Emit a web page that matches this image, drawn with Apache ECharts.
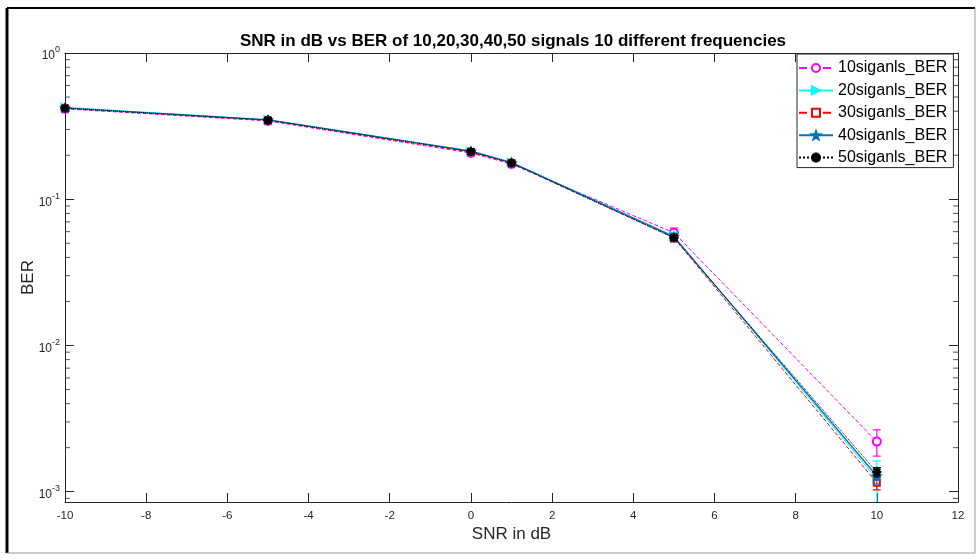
<!DOCTYPE html>
<html>
<head>
<meta charset="utf-8">
<script src="https://cdn.jsdelivr.net/npm/echarts@6/dist/echarts.min.js"></script>
<style>html,body{margin:0;padding:0;background:#fff;}#c{width:980px;height:560px;}</style>
</head>
<body>
<div id="c"></div>
<script>
// ---- data ----
const snr = [-10, -5, 0, 1, 5, 10];
const ber10 = [0.415, 0.343, 0.207, 0.174, 0.059, 0.0022];
const ber20 = [0.425, 0.350, 0.214, 0.179, 0.056, 0.00122];
const ber30 = [0.418, 0.346, 0.210, 0.176, 0.0545, 0.00115];
const ber40 = [0.422, 0.349, 0.213, 0.178, 0.0555, 0.00128];
const ber50 = [0.420, 0.348, 0.212, 0.177, 0.0545, 0.00136];
const err10 = [0.006, 0.005, 0.004, 0.003, 0.0045, 0.00045];
const err20 = [0.005, 0.004, 0.003, 0.003, 0.003, 0.0004];
const err30 = [0.004, 0.004, 0.003, 0.003, 0.0035, 0.00012];
const err40 = [0.004, 0.004, 0.003, 0.003, 0.003, 0.00015];
const err50 = [0.004, 0.004, 0.003, 0.003, 0.002, 0.0001];
const seriesNames = ['10siganls_BER', '20siganls_BER', '30siganls_BER', '40siganls_BER', '50siganls_BER'];
const xTicks = [-10, -8, -6, -4, -2, 0, 2, 4, 6, 8, 10, 12];
const yMinorTicks = [0.0009,
  0.002, 0.003, 0.004, 0.005, 0.006, 0.007, 0.008, 0.009,
  0.02, 0.03, 0.04, 0.05, 0.06, 0.07, 0.08, 0.09,
  0.2, 0.3, 0.4, 0.5, 0.6, 0.7, 0.8, 0.9];

const X_MIN = -10, X_MAX = 12, Y_MIN = 0.00085, Y_MAX = 1;
const colors = ['#ff00ff', '#00ffff', '#ff0000', '#0072bd', '#000000'];
const lineTypes = ['dashed', 'solid', 'dashed', 'solid', 'dotted'];
const starPath = 'path://M0,-10 L2.35,-3.24 L9.51,-3.09 L3.8,1.24 L5.88,8.09 L0,4 L-5.88,8.09 L-3.8,1.24 L-9.51,-3.09 L-2.35,-3.24 Z';
const asteriskPath = 'path://M-0.9,-6 L0.9,-6 L0.9,6 L-0.9,6 Z M-6,-0.9 L6,-0.9 L6,0.9 L-6,0.9 Z M-4.9,-3.6 L-3.6,-4.9 L4.9,3.6 L3.6,4.9 Z M3.6,-4.9 L4.9,-3.6 L-3.6,4.9 L-4.9,3.6 Z';
const symbols = ['emptyCircle', 'triangle', 'emptyRect', starPath, asteriskPath];
const symbolSizes = [8, 8, 6, 9, 8];
const symbolRot = [0, -90, 0, 0, 0];

const bers = [ber10, ber20, ber30, ber40, ber50];
const errs = [err10, err20, err30, err40, err50];
const font = "'Liberation Sans', Arial, Helvetica, sans-serif";
const axisColor = '#262626';

const series = [];
// minor ticks of the log axis (2..9 x 10^k), positioned by the axis scale
series.push({
  type: 'scatter', silent: true, z: 20, xAxisIndex: 0, yAxisIndex: 0,
  data: yMinorTicks.map(v => [X_MIN, v]),
  symbol: 'rect', symbolSize: [5, 1], symbolOffset: [2.5, 0],
  itemStyle: { color: axisColor }
});
series.push({
  type: 'scatter', silent: true, z: 20, xAxisIndex: 0, yAxisIndex: 0,
  data: yMinorTicks.map(v => [X_MAX, v]),
  symbol: 'rect', symbolSize: [5, 1], symbolOffset: [-2.5, 0],
  itemStyle: { color: axisColor }
});
bers.forEach((b, i) => {
  series.push({
    type: 'custom', silent: true, clip: true, z: 2 + i,
    data: snr.map((x, j) => [x, Math.max(b[j] - errs[i][j], 1e-6), b[j] + errs[i][j]]),
    renderItem: function (params, api) {
      const x = api.value(0), lo = api.value(1), hi = api.value(2);
      const pH = api.coord([x, hi]);
      const pL = api.coord([x, lo]);
      const w = 4;
      const st = { stroke: colors[i], lineWidth: 1.2 };
      return { type: 'group', children: [
        { type: 'line', shape: { x1: pH[0], y1: pH[1], x2: pL[0], y2: pL[1] }, style: st },
        { type: 'line', shape: { x1: pH[0] - w, y1: pH[1], x2: pH[0] + w, y2: pH[1] }, style: st },
        { type: 'line', shape: { x1: pL[0] - w, y1: pL[1], x2: pL[0] + w, y2: pL[1] }, style: st }
      ]};
    }
  });
  series.push({
    name: seriesNames[i], type: 'line', z: 2 + i,
    data: snr.map((x, j) => [x, b[j]]),
    symbol: symbols[i], symbolSize: symbolSizes[i], symbolRotate: symbolRot[i],
    showAllSymbol: true,
    lineStyle: { color: colors[i], width: i === 3 ? 1.3 : 1, type: lineTypes[i] },
    itemStyle: { color: colors[i], borderColor: colors[i], borderWidth: 1.2 },
    emphasis: { disabled: true }
  });
});

const supFmt = function (v) {
  const l = Math.log10(v);
  const e = Math.round(l);
  if (Math.abs(l - e) > 1e-6) return '';
  return '{b|10}{s|' + e + '}';
};

const chart = echarts.init(document.getElementById('c'), null, { renderer: 'canvas' });
chart.setOption({
  animation: false,
  backgroundColor: '#ffffff',
  title: {
    text: 'SNR in dB vs BER of 10,20,30,40,50 signals 10 different frequencies',
    left: 508, top: 28, textAlign: 'center',
    textStyle: { fontFamily: font, fontSize: 17, fontWeight: 'bold', color: '#000' }
  },
  grid: { left: 65, right: 22, top: 53, bottom: 58, outerBoundsMode: 'none', containLabel: false },
  legend: {
    data: seriesNames,
    orient: 'vertical', left: 797, top: 54,
    padding: [6, 6, 2, 1],
    itemWidth: 34, itemHeight: 10, itemGap: 6.4,
    backgroundColor: '#ffffff', borderColor: '#262626', borderWidth: 1,
    textStyle: { fontFamily: font, fontSize: 16, color: '#000' },
    selectedMode: false
  },
  xAxis: [{
    type: 'value', min: X_MIN, max: X_MAX, interval: 2, position: 'bottom',
    name: 'SNR in dB', nameLocation: 'middle', nameGap: 24, nameMoveOverlap: false,
    nameTextStyle: { fontFamily: font, fontSize: 17, color: axisColor },
    axisLine: { show: true, onZero: false, lineStyle: { color: axisColor, width: 1 } },
    axisTick: { show: true, inside: true, length: 9, lineStyle: { color: axisColor } },
    axisLabel: { fontFamily: font, fontSize: 11.5, color: axisColor, margin: 8,
      formatter: v => xTicks.indexOf(v) >= 0 ? String(v) : '' },
    splitLine: { show: false }
  }, {
    type: 'value', min: X_MIN, max: X_MAX, interval: 2, position: 'top',
    axisLine: { show: true, onZero: false, lineStyle: { color: axisColor, width: 1 } },
    axisTick: { show: true, inside: true, length: 9, lineStyle: { color: axisColor } },
    axisLabel: { show: false }, splitLine: { show: false }
  }],
  yAxis: [{
    type: 'log', logBase: 10, min: Y_MIN, max: Y_MAX, position: 'left',
    name: 'BER', nameLocation: 'middle', nameGap: 28, nameMoveOverlap: false,
    nameTextStyle: { fontFamily: font, fontSize: 17, color: axisColor },
    axisLine: { show: true, onZero: false, lineStyle: { color: axisColor, width: 1 } },
    axisTick: { show: true, inside: true, length: 9, lineStyle: { color: axisColor } },
    axisLabel: { margin: 5, formatter: supFmt,
      rich: {
        b: { fontFamily: font, fontSize: 12, color: axisColor, padding: [6, 0, 0, 0] },
        s: { fontFamily: font, fontSize: 9, color: axisColor, padding: [0, 0, 6, 0] }
      } },
    splitLine: { show: false }
  }, {
    type: 'log', logBase: 10, min: Y_MIN, max: Y_MAX, position: 'right',
    axisLine: { show: true, onZero: false, lineStyle: { color: axisColor, width: 1 } },
    axisTick: { show: true, inside: true, length: 9, lineStyle: { color: axisColor } },
    axisLabel: { show: false }, splitLine: { show: false }
  }],
  series: series,
  graphic: [
    { type: 'line', shape: { x1: 7, y1: 8, x2: 975, y2: 8 }, style: { stroke: '#000', lineWidth: 2 }, silent: true },
    { type: 'line', shape: { x1: 7, y1: 8, x2: 7, y2: 553 }, style: { stroke: '#000', lineWidth: 3 }, silent: true },
    { type: 'line', shape: { x1: 975, y1: 8, x2: 975, y2: 553 }, style: { stroke: '#9a9a9a', lineWidth: 1 }, silent: true },
    { type: 'line', shape: { x1: 7, y1: 553, x2: 975, y2: 553 }, style: { stroke: '#9a9a9a', lineWidth: 1 }, silent: true }
  ]
});
</script>
</body>
</html>
